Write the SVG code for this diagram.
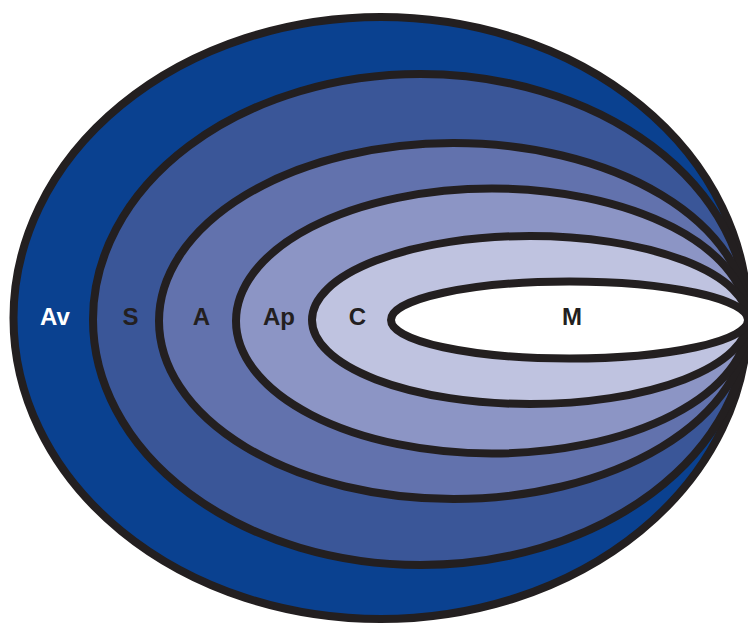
<svg xmlns="http://www.w3.org/2000/svg" width="748" height="627" viewBox="0 0 748 627">
<style>
.ring{stroke:#231f20;stroke-width:8}
.lbl{font-family:"Liberation Sans",Arial,sans-serif;font-weight:bold;font-size:24px;text-anchor:middle;fill:#231f20}
</style>
<rect width="748" height="627" fill="#ffffff"/>
<g id="Av"><ellipse class="ring" cx="380.75" cy="318" rx="367.25" ry="301" fill="#0a4190"/><text class="lbl" x="55" y="325" style="fill:#ffffff">Av</text></g>
<g id="S"><ellipse class="ring" cx="420.5" cy="319.5" rx="327.5" ry="245.5" fill="#3a5698"/><text class="lbl" x="130.5" y="325">S</text></g>
<g id="A"><ellipse class="ring" cx="453.5" cy="321" rx="294.5" ry="178" fill="#6272ad"/><text class="lbl" x="201.5" y="325">A</text></g>
<g id="Ap"><ellipse class="ring" cx="492" cy="321" rx="256" ry="132.5" fill="#8c95c5"/><text class="lbl" x="279" y="325">Ap</text></g>
<g id="C"><ellipse class="ring" cx="530" cy="320" rx="218" ry="84" fill="#bfc3e0"/><text class="lbl" x="357.5" y="325">C</text></g>
<g id="M"><ellipse class="ring" cx="569.5" cy="320" rx="178.5" ry="38.5" fill="#ffffff"/><text class="lbl" x="572" y="325">M</text></g>
<g id="connectors"></g>
</svg>
